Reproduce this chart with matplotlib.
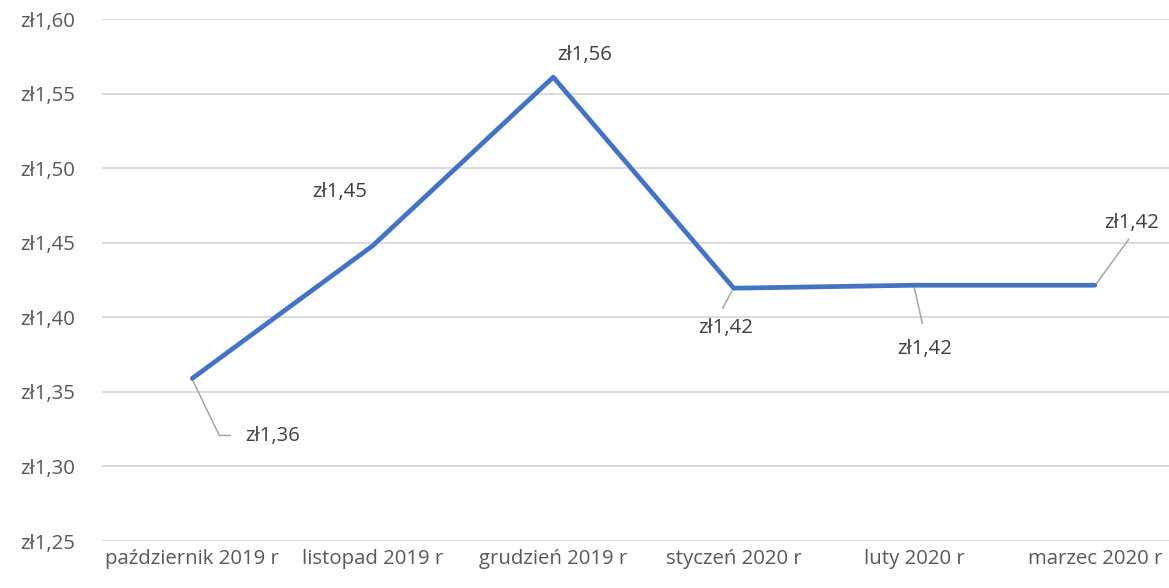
import matplotlib
matplotlib.use("Agg")
import matplotlib.pyplot as plt
from matplotlib.transforms import offset_copy

categories = ["październik 2019 r", "listopad 2019 r", "grudzień 2019 r",
              "styczeń 2020 r", "luty 2020 r", "marzec 2020 r"]
values = [1.359, 1.448, 1.561, 1.4195, 1.4215, 1.4215]
yticks = [1.25, 1.30, 1.35, 1.40, 1.45, 1.50, 1.55, 1.60]

def fmt(v):
    return "zł" + f"{v:.2f}".replace(".", ",")

plt.rcParams['font.family'] = ['Open Sans', 'DejaVu Sans']
FS = 14.7

fig = plt.figure(figsize=(11.69, 5.88), dpi=100)
ax = fig.add_axes([102/1169, 47/588, 1083/1169, 522/588])
x = list(range(len(categories)))
ax.plot(x, values, color="#4472C4", lw=3.4, solid_joinstyle="round", solid_capstyle="round", zorder=3)
ax.set_xlim(-0.5, len(categories) - 0.5)
ax.set_ylim(1.25, 1.60)
ax.set_yticks(yticks)
ax.set_yticklabels([fmt(v) for v in yticks])
ax.set_xticks(x)
ax.set_xticklabels(categories)
ax.tick_params(axis='both', length=0, labelsize=FS, colors="#595959")
ax.tick_params(axis='y', pad=19.5)
ax.tick_params(axis='x', pad=5.5)
for s in ax.spines.values():
    s.set_visible(False)
ax.grid(axis='y', color="#D9D9D9", lw=1.3)
ax.set_axisbelow(True)

# label offsets (pixels) and leader line paths (pixels)
label_off = [(80, -58), (-33, 54), (31, 22), (-8, -40), (10, -64), (37, 62)]
leaders = [[(0, -1), (27, -57), (38, -57)], None, None,
           [(-2, -3), (-11, -20)], [(0, -2), (8, -38)], [(2, 2), (34, 46)]]
for i, v in enumerate(values):
    dx, dy = label_off[i]
    tr = offset_copy(ax.transData, fig=fig, x=dx, y=dy, units='dots')
    ax.text(i, v, fmt(v), transform=tr, ha='center', va='center',
            fontsize=FS, color="#404040")
    if leaders[i]:
        tr0 = ax.transData
        px, py = tr0.transform((i, v))
        xs = [px + a for a, b in leaders[i]]
        ys = [py + b for a, b in leaders[i]]
        pts = tr0.inverted().transform(list(zip(xs, ys)))
        ax.plot(pts[:, 0], pts[:, 1], color="#A6A6A6", lw=1.1, zorder=2, clip_on=False)

fig.savefig("out.png", dpi=100)
